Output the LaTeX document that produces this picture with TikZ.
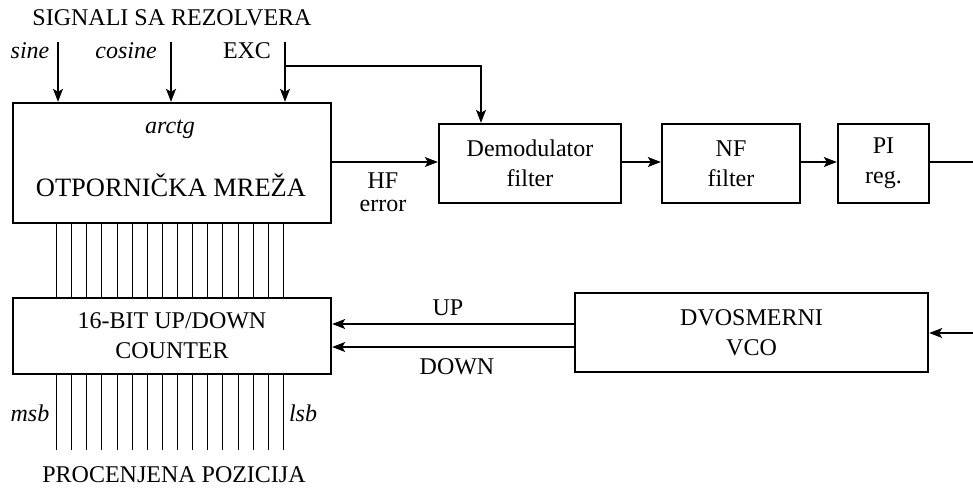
\documentclass[tikz,border=0pt]{standalone}
\usepackage{fontspec}
\setmainfont{Liberation Serif}
\usetikzlibrary{arrows.meta,calc}
\tikzset{
  blk/.style={draw, line width=2.4pt, inner sep=0pt, align=center, font=\rmfamily\fontsize{24}{30}\selectfont},
  lbl/.style={inner sep=0pt, align=center, font=\rmfamily\fontsize{24}{28}\selectfont},
  ilbl/.style={lbl, font=\rmfamily\fontsize{24}{28}\selectfont\itshape},
  wire/.style={line width=1.1pt},
  conn/.style={wire, -{Stealth[length=13pt,width=10pt,inset=3pt]}}
}
\begin{document}
\begin{tikzpicture}[x=1pt,y=-1pt]
\useasboundingbox (0,0) rectangle (973,487);
% blocks
\node[blk, minimum width=318, minimum height=120] (top) at (172,163) {};
\node[ilbl] (arctg) at (170,129) {arctg};
\node[lbl, font=\rmfamily\fontsize{26.5}{30}\selectfont] (otp) at (171,185) {OTPORNIČKA MREŽA};
\node[blk, minimum width=318, minimum height=76] (cnt) at (172,336) {16-BIT UP/DOWN\\COUNTER};
\node[blk, minimum width=182, minimum height=79] (dem) at (530,163.5) {Demodulator\\filter};
\node[blk, minimum width=138, minimum height=79] (nf) at (731,163.5) {NF\\filter};
\node[blk, minimum width=91, minimum height=79] (pi) at (883.5,163.5) {PI\\reg.};
\node[blk, minimum width=353, minimum height=79] (vco) at (751.5,332.5) {DVOSMERNI\\VCO};
% labels
\node[lbl] (sig) at (172,18) {SIGNALI SA REZOLVERA};
\node[ilbl] (sine) at (30,51) {sine};
\node[ilbl] (cosine) at (126,51) {cosine};
\node[lbl] (exc) at (247,51) {EXC};
\node[lbl] (hf) at (383,181) {HF};
\node[lbl] (err) at (383,206) {error};
\node[lbl] (up) at (448,308) {UP};
\node[lbl] (down) at (457,367) {DOWN};
\node[ilbl] (msb) at (30,413) {msb};
\node[ilbl] (lsb) at (303,413) {lsb};
\node[lbl] (proc) at (174,475) {PROCENJENA POZICIJA};
% free ends
\coordinate (sinein) at (58,42);
\coordinate (cosin) at (171,42);
\coordinate (excin) at (285,42);
\coordinate (excbr) at (285,66);
\coordinate (excr) at (481,66);
\coordinate (piout) at (973,162);
\coordinate (vcoin) at (973,333);
% input arrows
\draw[conn] (sinein) -- (sinein |- top.north);
\draw[conn] (cosin) -- (cosin |- top.north);
\draw[conn] (excin) -- (excin |- top.north);
\draw[conn] (excbr) -- (excr) -- (excr |- dem.north);
% forward chain
\draw[conn] (top.east |- 0,162) -- (dem.west |- 0,162);
\draw[conn] (dem.east |- 0,162) -- (nf.west |- 0,162);
\draw[conn] (nf.east |- 0,162) -- (pi.west |- 0,162);
\draw[wire] (pi.east |- 0,162) -- (piout);
\draw[conn] (vcoin) -- (vco.east |- vcoin);
\draw[conn] (vco.west |- 0,324) -- (cnt.east |- 0,324);
\draw[conn] (vco.west |- 0,347) -- (cnt.east |- 0,347);
% buses
\foreach \i in {0,...,15} {
  \pgfmathsetmacro{\dx}{round(45+\i*15.13)}
  \draw[wire] ([xshift=\dx]top.south west) -- ([xshift=\dx]cnt.north west);
  \draw[wire] ([xshift=\dx]cnt.south west) -- ([xshift=\dx,yshift=-75]cnt.south west);
}
\end{tikzpicture}
\end{document}
